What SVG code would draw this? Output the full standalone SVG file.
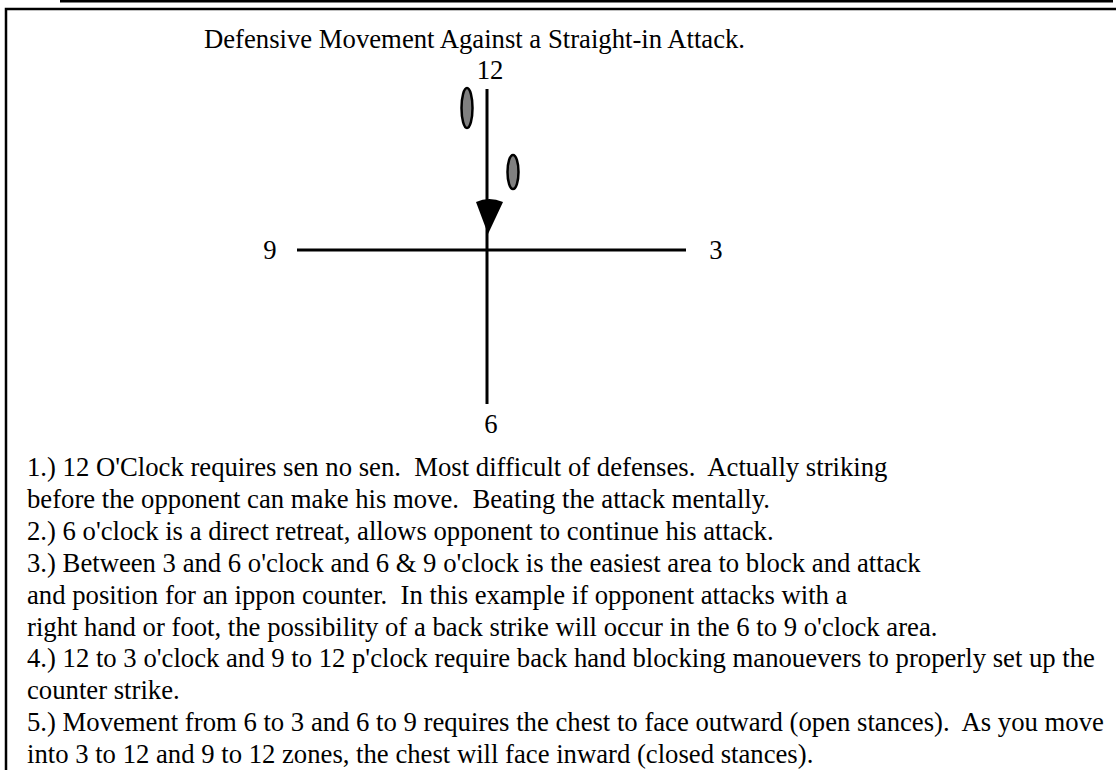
<svg xmlns="http://www.w3.org/2000/svg" width="1116" height="770" viewBox="0 0 1116 770">
<style>
text{font-family:"Liberation Serif","Times New Roman",serif;font-size:26.7px;fill:#000;white-space:pre}
.ax{stroke:#000;stroke-width:3;fill:none}
.foot{fill:#808080;stroke:#000;stroke-width:2.5}
</style>
<rect width="1116" height="770" fill="#fff"/>
<g id="frame">
<line x1="60" y1="1" x2="1113" y2="1" stroke="#000" stroke-width="3"/>
<path d="M6 770 V9 H1116" fill="none" stroke="#000" stroke-width="2.5"/>
</g>
<g id="title"><text x="204" y="48">Defensive Movement Against a Straight-in Attack.</text></g>
<g id="connectors">
<line class="ax" x1="487" y1="89" x2="487" y2="404"/>
<line class="ax" x1="297" y1="250" x2="686" y2="250"/>
<path d="M476 202 Q489 196 503 202 L488 234 Z" fill="#000"/>
</g>
<g id="foot-left"><ellipse class="foot" cx="467" cy="108" rx="5.5" ry="20"/></g>
<g id="foot-right"><ellipse class="foot" cx="513" cy="172" rx="5.5" ry="17"/></g>
<g id="label-12"><text x="490" y="79" text-anchor="middle">12</text></g>
<g id="label-9"><text x="270" y="259" text-anchor="middle">9</text></g>
<g id="label-3"><text x="716" y="259" text-anchor="middle">3</text></g>
<g id="label-6"><text x="491" y="433" text-anchor="middle">6</text></g>
<g id="notes">
<text x="27" y="476" xml:space="preserve">1.) 12 O'Clock requires sen no sen.  Most difficult of defenses.  Actually striking</text>
<text x="27" y="508" xml:space="preserve">before the opponent can make his move.  Beating the attack mentally.</text>
<text x="27" y="540" xml:space="preserve">2.) 6 o'clock is a direct retreat, allows opponent to continue his attack.</text>
<text x="27" y="572" xml:space="preserve">3.) Between 3 and 6 o'clock and 6 &amp; 9 o'clock is the easiest area to block and attack</text>
<text x="27" y="604" xml:space="preserve">and position for an ippon counter.  In this example if opponent attacks with a</text>
<text x="27" y="636" xml:space="preserve">right hand or foot, the possibility of a back strike will occur in the 6 to 9 o'clock area.</text>
<text x="27" y="667" xml:space="preserve">4.) 12 to 3 o'clock and 9 to 12 p'clock require back hand blocking manouevers to properly set up the</text>
<text x="27" y="699" xml:space="preserve">counter strike.</text>
<text x="27" y="731" xml:space="preserve">5.) Movement from 6 to 3 and 6 to 9 requires the chest to face outward (open stances).  As you move</text>
<text x="27" y="763" xml:space="preserve">into 3 to 12 and 9 to 12 zones, the chest will face inward (closed stances).</text>
</g>
</svg>
